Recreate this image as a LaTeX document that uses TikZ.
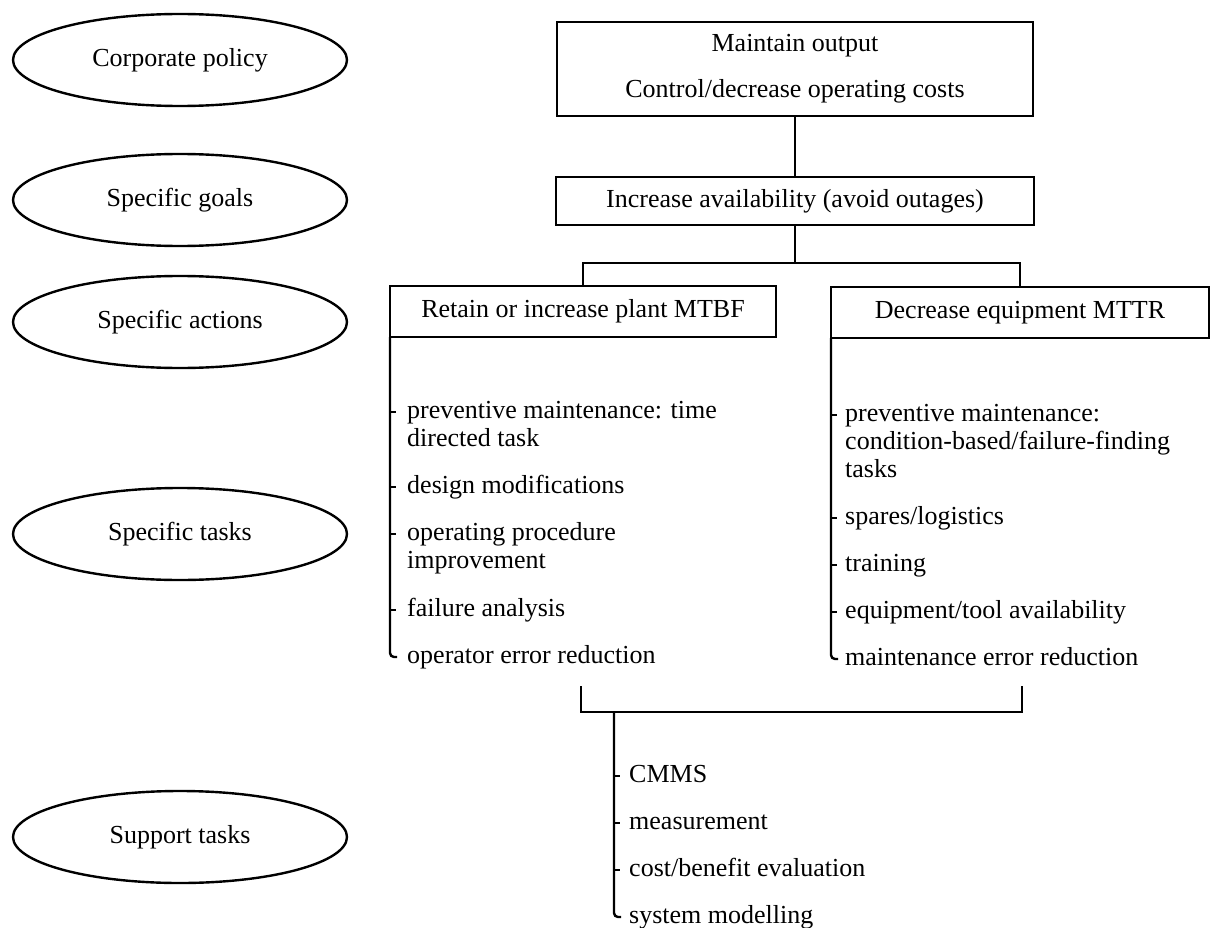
\documentclass[tikz,border=0pt]{standalone}
\usepackage{fontspec}
\setmainfont{Liberation Serif}
\usetikzlibrary{shapes.geometric}
\newcommand\mainsize{\fontsize{26}{28}\selectfont}
\newcommand\lines[1]{\begin{tabular}[t]{@{}l@{}}#1\end{tabular}}
\tikzset{
  level/.style={ellipse, draw, line width=2.4pt, minimum width=334pt, minimum height=92pt,
    inner sep=0pt, outer sep=0pt, font=\mainsize},
  box/.style={rectangle, draw, line width=2.4pt, inner sep=0pt, outer sep=0pt, font=\mainsize},
  wire/.style={line width=2.4pt},
  trunk/.style={line width=2.4pt, rounded corners=4pt},
  entry/.style={anchor=base west, inner sep=0pt, font=\mainsize},
}
\begin{document}
\begin{tikzpicture}[x=1pt, y=-1pt]
\useasboundingbox (0,0) rectangle (1212,928);

% hierarchy levels
\node[level] (pol) at (180,60)  {Corporate policy};
\node[level] (gls) at (180,200) {Specific goals};
\node[level] (act) at (180,322) {Specific actions};
\node[level] (tsk) at (180,534) {Specific tasks};
\node[level] (sup) at (180,837) {Support tasks};

% goal boxes
\node[box, minimum width=476pt, minimum height=94pt, align=center] (out) at (795,69)
  {Maintain output\\[18pt]Control/decrease operating costs};
\node[box, minimum width=478pt, minimum height=48pt] (avail) at (795,201)
  {Increase availability (avoid outages)};
\node[box, minimum width=386pt, minimum height=51pt] (mtbf) at (583,311.5)
  {Retain or increase plant MTBF};
\node[box, minimum width=378pt, minimum height=51pt] (mttr) at (1020,312.5)
  {Decrease equipment MTTR};

\coordinate (fork) at (795,263);
\draw[wire] (out.south) -- (avail.north);
\draw[wire] (avail.south) -- (fork);
\draw[wire] (mtbf.north) |- (fork) -| (mttr.north);

% MTBF tasks
\node[entry] (a1) at (407,418) {\lines{preventive maintenance: time\\directed task}};
\node[entry] (a2) at (407,493) {design modifications};
\node[entry] (a3) at (407,540) {\lines{operating procedure\\improvement}};
\node[entry] (a4) at (407,616) {failure analysis};
\node[entry] (a5) at (407,663) {operator error reduction};
\draw[trunk] (mtbf.south west) -- (390,657) -- (397,657);
\foreach \y in {412,487,534,610} \draw[wire] (390,\y) -- (396,\y);

% MTTR tasks
\node[entry] (b1) at (845,421) {\lines{preventive maintenance:\\condition-based/failure-finding\\tasks}};
\node[entry] (b2) at (845,524) {spares/logistics};
\node[entry] (b3) at (845,571) {training};
\node[entry] (b4) at (845,618) {equipment/tool availability};
\node[entry] (b5) at (845,665) {maintenance error reduction};
\draw[trunk] (mttr.south west) -- (831,659) -- (838,659);
\foreach \y in {415,518,565,612} \draw[wire] (831,\y) -- (837,\y);

% support tasks
\coordinate (bl) at (581,686);
\coordinate (br) at (1022,686);
\coordinate (brk) at (614,712);
\draw[wire] (bl) |- (brk) -| (br);
\node[entry] (c1) at (629,782) {CMMS};
\node[entry] (c2) at (629,829) {measurement};
\node[entry] (c3) at (629,876) {cost/benefit evaluation};
\node[entry] (c4) at (629,923) {system modelling};
\draw[trunk] (brk) -- (614,917) -- (621,917);
\foreach \y in {776,823,870} \draw[wire] (614,\y) -- (620,\y);
\end{tikzpicture}
\end{document}
